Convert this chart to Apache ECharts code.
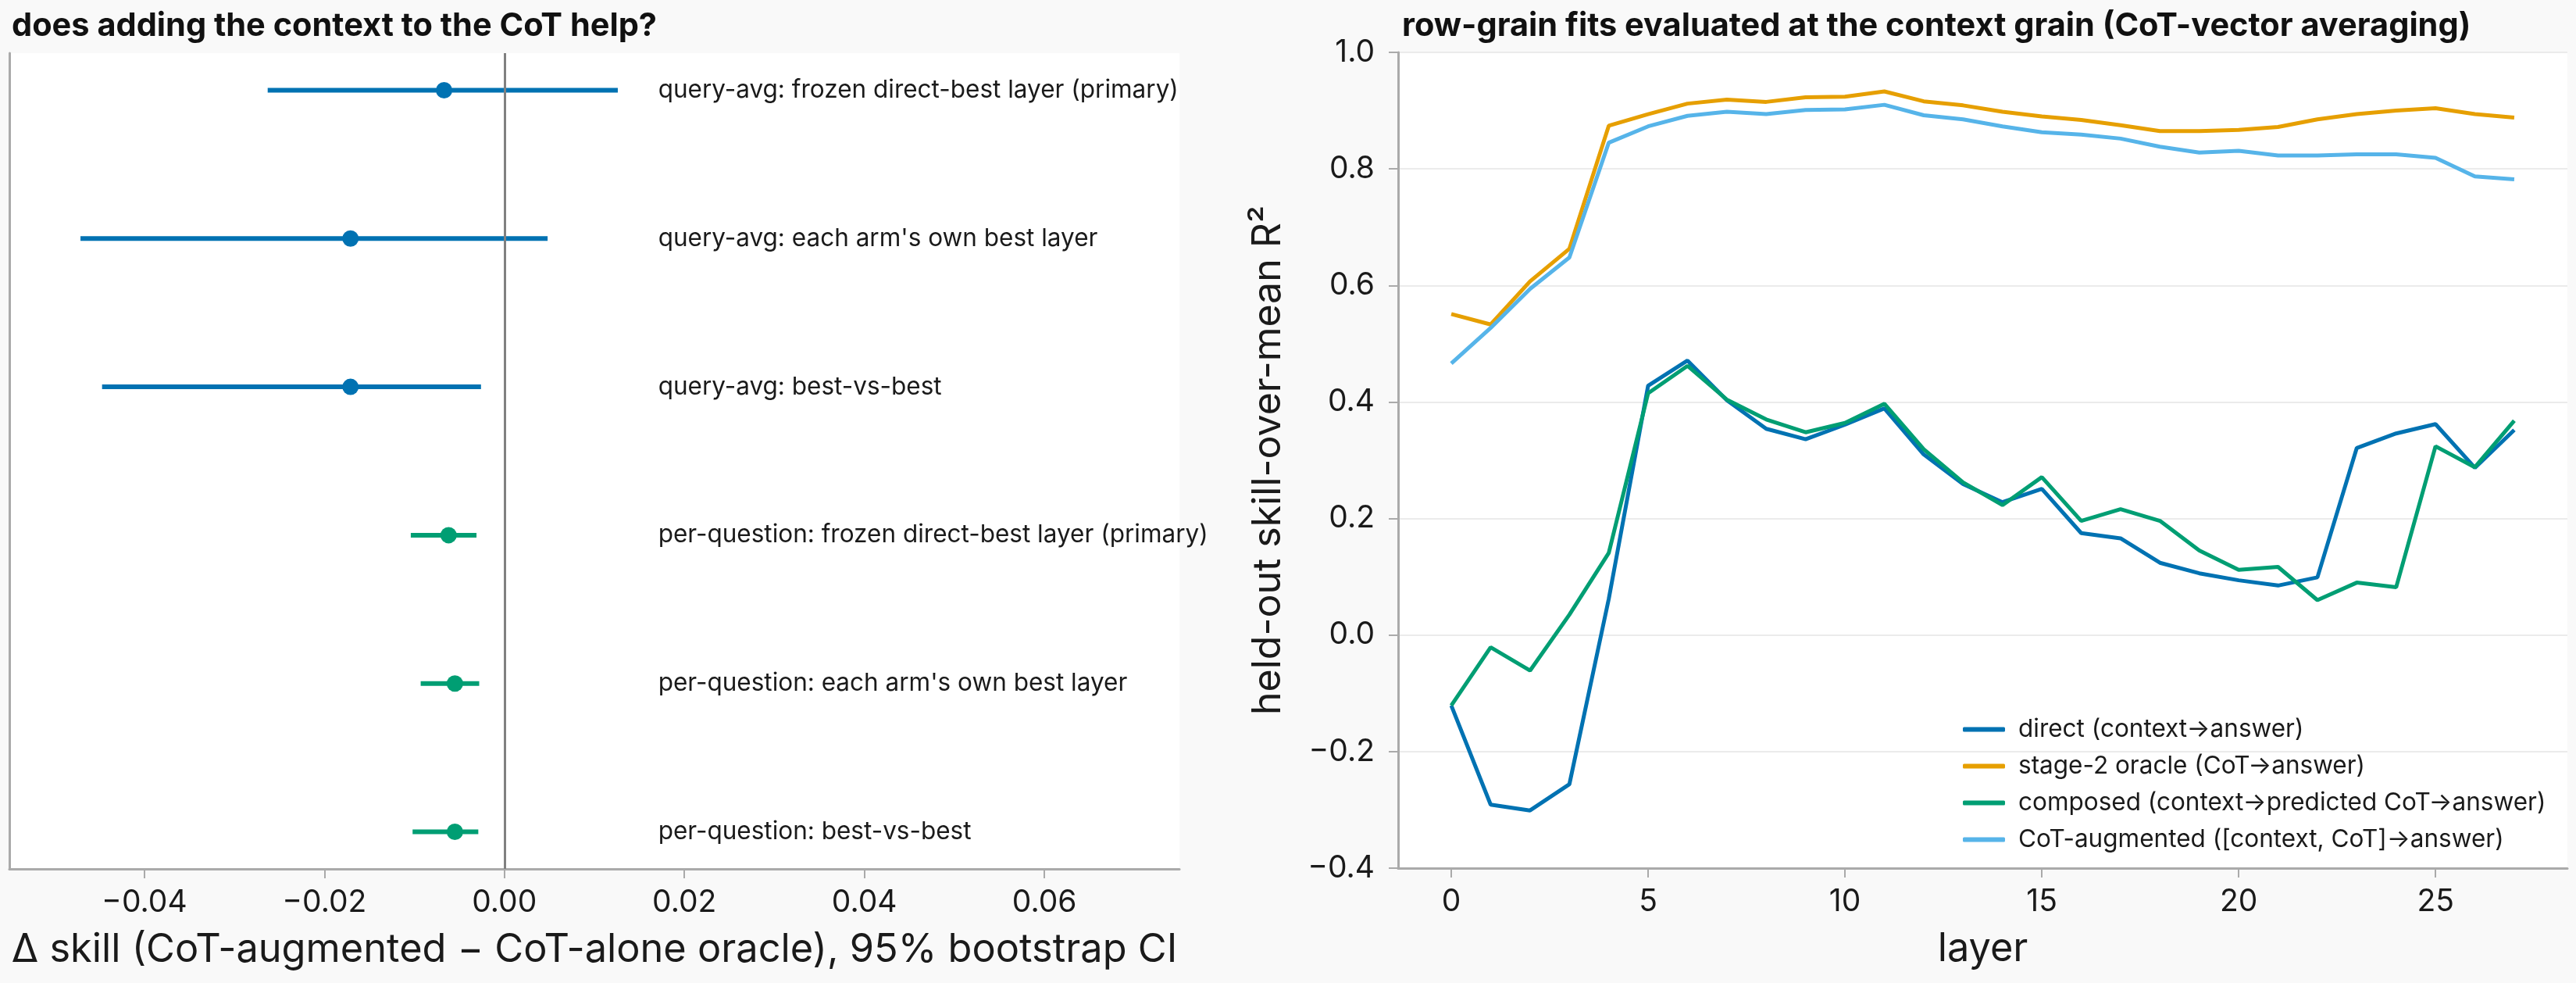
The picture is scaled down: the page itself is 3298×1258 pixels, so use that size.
<!DOCTYPE html>
<html>
<head>
<meta charset="utf-8">
<script src="https://cdn.jsdelivr.net/npm/echarts@6/dist/echarts.min.js"></script>
<style>
html,body{margin:0;padding:0;background:#f9f9f9;}
#chart{width:3298px;height:1258px;}
</style>
</head>
<body>
<div id="chart"></div>
<script>
// ---------- Left panel data ----------
const rowLabels = [
  "query-avg: frozen direct-best layer (primary)",
  "query-avg: each arm's own best layer",
  "query-avg: best-vs-best",
  "per-question: frozen direct-best layer (primary)",
  "per-question: each arm's own best layer",
  "per-question: best-vs-best"
];
const ciPoint = [-0.0067, -0.0171, -0.0171, -0.0062, -0.0055, -0.0055];
const ciLow   = [-0.0263, -0.0471, -0.0447, -0.0104, -0.0093, -0.0102];
const ciHigh  = [ 0.0126,  0.0048, -0.0026, -0.0031, -0.0028, -0.0029];
const leftTicks = [-0.04, -0.02, 0.00, 0.02, 0.04, 0.06];

// ---------- Right panel data ----------
const layers = [0,1,2,3,4,5,6,7,8,9,10,11,12,13,14,15,16,17,18,19,20,21,22,23,24,25,26,27];
const direct    = [-0.121,-0.291,-0.301,-0.256,0.062,0.428,0.471,0.403,0.354,0.336,0.361,0.389,0.310,0.259,0.228,0.251,0.175,0.166,0.124,0.106,0.094,0.085,0.099,0.321,0.346,0.362,0.287,0.352];
const oracle    = [0.551,0.533,0.607,0.663,0.874,0.894,0.912,0.919,0.915,0.923,0.924,0.933,0.916,0.909,0.898,0.890,0.884,0.875,0.865,0.865,0.867,0.872,0.885,0.894,0.900,0.904,0.894,0.888];
const composed  = [-0.121,-0.021,-0.061,0.035,0.141,0.415,0.462,0.404,0.370,0.348,0.364,0.397,0.319,0.262,0.223,0.271,0.196,0.216,0.196,0.145,0.112,0.117,0.060,0.090,0.082,0.324,0.288,0.368];
const augmented = [0.466,0.527,0.594,0.648,0.845,0.873,0.891,0.898,0.894,0.901,0.902,0.910,0.892,0.885,0.873,0.863,0.859,0.852,0.838,0.828,0.831,0.823,0.823,0.825,0.825,0.819,0.787,0.782];
const seriesNames = [
  "direct (context\u2192answer)",
  "stage-2 oracle (CoT\u2192answer)",
  "composed (context\u2192predicted CoT\u2192answer)",
  "CoT-augmented ([context, CoT]\u2192answer)"
];
const layerTicks = [0,5,10,15,20,25];

// ---------- styling ----------
const FONT = 'Inter';
const TXT = '#1a1a1a';
const AXC = '#aaaaaa';
const BLUE = '#0072B2', ORANGE = '#E69F00', GREEN = '#009E73', SKY = '#56B4E9';
const LABEL_X = 0.017;
const rowColor = rowLabels.map(s => s.startsWith('query') ? BLUE : GREEN);
const fmt = (v, d) => (v < 0 ? '\u2212' : '') + Math.abs(v).toFixed(d);

const chart = echarts.init(document.getElementById('chart'), null, {renderer: 'canvas'});

const option = {
  animation: false,
  backgroundColor: '#f9f9f9',
  textStyle: {fontFamily: FONT, color: TXT},
  title: [
    {text: 'does adding the context to the CoT help?', left: 10, top: 8,
     textStyle: {fontFamily: FONT, fontSize: 41.5, fontWeight: 'bold', color: '#111'}},
    {text: 'row-grain fits evaluated at the context grain (CoT-vector averaging)', left: 1790, top: 8,
     textStyle: {fontFamily: FONT, fontSize: 41.5, fontWeight: 'bold', color: '#111'}}
  ],
  grid: [
    {left: 12, top: 68, width: 1498, height: 1044, show: true, backgroundColor: '#ffffff', borderWidth: 0},
    {left: 1790, top: 67, width: 1497, height: 1044, show: true, backgroundColor: '#ffffff', borderWidth: 0}
  ],
  xAxis: [
    {gridIndex: 0, type: 'value', min: -0.055, max: 0.075,
     name: '\u0394 skill (CoT-augmented \u2212 CoT-alone oracle), 95% bootstrap CI',
     nameLocation: 'middle', nameGap: 78,
     nameTextStyle: {fontFamily: FONT, fontSize: 50.5, color: TXT},
     axisLine: {show: true, onZero: false, lineStyle: {color: AXC, width: 3}},
     axisTick: {show: true, customValues: leftTicks, length: 12, lineStyle: {color: AXC, width: 2}},
     axisLabel: {customValues: leftTicks, formatter: v => fmt(v, 2), fontFamily: FONT, fontSize: 39, color: TXT, margin: 24},
     splitLine: {show: false}},
    {gridIndex: 1, type: 'value', min: -1.35, max: 28.35,
     name: 'layer', nameLocation: 'middle', nameGap: 78,
     nameTextStyle: {fontFamily: FONT, fontSize: 50.5, color: TXT},
     axisLine: {show: true, onZero: false, lineStyle: {color: AXC, width: 3}},
     axisTick: {show: true, customValues: layerTicks, length: 12, lineStyle: {color: AXC, width: 2}},
     axisLabel: {customValues: layerTicks, formatter: v => String(v), fontFamily: FONT, fontSize: 39, color: TXT, margin: 24},
     splitLine: {show: false}}
  ],
  yAxis: [
    {gridIndex: 0, type: 'value', min: -0.25, max: 5.25, inverse: true,
     axisLine: {show: true, onZero: false, lineStyle: {color: AXC, width: 3}},
     axisTick: {show: false}, axisLabel: {show: false}, splitLine: {show: false}},
    {gridIndex: 1, type: 'value', min: -0.4, max: 1.0, interval: 0.2,
     name: 'held-out skill-over-mean R\u00B2', nameLocation: 'middle', nameGap: 141, nameRotate: 90,
     nameTextStyle: {fontFamily: FONT, fontSize: 50, color: TXT},
     axisLine: {show: true, onZero: false, lineStyle: {color: AXC, width: 3}},
     axisTick: {show: true, length: 12, lineStyle: {color: AXC, width: 2}},
     axisLabel: {formatter: v => fmt(Math.round(v * 10) / 10, 1), fontFamily: FONT, fontSize: 39, color: TXT, margin: 30},
     splitLine: {show: true, lineStyle: {color: '#ebebeb', width: 2}}}
  ],
  legend: {
    orient: 'vertical', left: 2508, top: 910,
    data: seriesNames,
    icon: 'roundRect', itemWidth: 54, itemHeight: 6, itemGap: 10,
    textStyle: {fontFamily: FONT, fontSize: 31.5, color: TXT, lineHeight: 37, padding: [0, 0, 0, 12]},
    backgroundColor: 'transparent'
  },
  series: [
    {type: 'custom', xAxisIndex: 0, yAxisIndex: 0,
     data: rowLabels.map((_, i) => [i, ciLow[i], ciHigh[i]]),
     encode: {x: [1, 2], y: 0},
     renderItem: (params, api) => {
       const y = api.value(0);
       const p1 = api.coord([api.value(1), y]);
       const p2 = api.coord([api.value(2), y]);
       return {type: 'line', shape: {x1: p1[0], y1: p1[1], x2: p2[0], y2: p2[1]},
               style: {stroke: rowColor[params.dataIndex], lineWidth: 6}};
     }, z: 2},
    {type: 'scatter', xAxisIndex: 0, yAxisIndex: 0, symbolSize: 21,
     data: rowLabels.map((_, i) => ({value: [ciPoint[i], i], itemStyle: {color: rowColor[i], opacity: 1}})),
     z: 3,
     markLine: {silent: true, symbol: ['none', 'none'], label: {show: false},
       lineStyle: {color: '#808080', width: 3, type: 'solid'},
       data: [{xAxis: 0}], z: 5}},
    {type: 'scatter', xAxisIndex: 0, yAxisIndex: 0, symbolSize: 2,
     itemStyle: {color: 'rgba(255,255,255,0)'},
     data: rowLabels.map((_, i) => [LABEL_X, i]),
     label: {show: true, position: 'right', distance: 0, formatter: p => rowLabels[p.dataIndex],
       fontFamily: FONT, fontSize: 31.5, color: TXT, opacity: 1},
     z: 4},
    {type: 'line', name: seriesNames[0], xAxisIndex: 1, yAxisIndex: 1, showSymbol: false, symbol: 'none',
     color: BLUE, lineStyle: {width: 5, color: BLUE}, data: layers.map((l, i) => [l, direct[i]])},
    {type: 'line', name: seriesNames[1], xAxisIndex: 1, yAxisIndex: 1, showSymbol: false, symbol: 'none',
     color: ORANGE, lineStyle: {width: 5, color: ORANGE}, data: layers.map((l, i) => [l, oracle[i]])},
    {type: 'line', name: seriesNames[2], xAxisIndex: 1, yAxisIndex: 1, showSymbol: false, symbol: 'none',
     color: GREEN, lineStyle: {width: 5, color: GREEN}, data: layers.map((l, i) => [l, composed[i]])},
    {type: 'line', name: seriesNames[3], xAxisIndex: 1, yAxisIndex: 1, showSymbol: false, symbol: 'none',
     color: SKY, lineStyle: {width: 5, color: SKY}, data: layers.map((l, i) => [l, augmented[i]])}
  ]
};
chart.setOption(option);
</script>
</body>
</html>
